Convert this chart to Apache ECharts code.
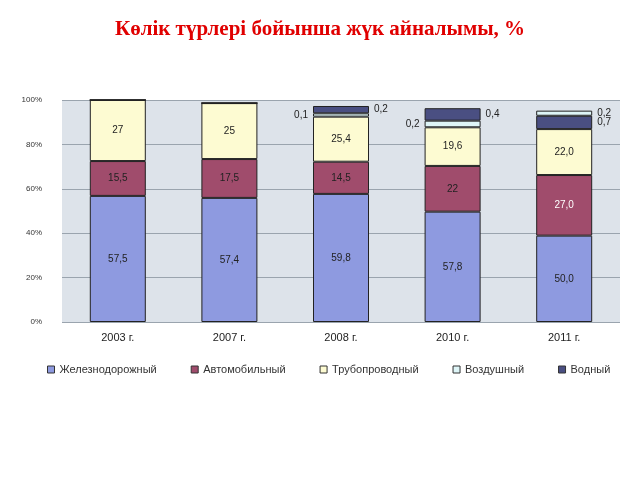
<!DOCTYPE html><html><head><meta charset="utf-8">
<script src="https://cdn.jsdelivr.net/npm/echarts@6/dist/echarts.min.js"></script></head>
<body style="margin:0;background:#fff"><div id="c" style="width:640px;height:480px"></div>
<script>
const categories = ['2003 г.','2007 г.','2008 г.','2010 г.','2011 г.'];
const seriesNames = ['Железнодорожный','Автомобильный','Трубопроводный','Воздушный','Водный'];
// segment heights as drawn in the picture (%)
const rail = [56.8, 55.9, 57.7, 49.7, 38.9];
const auto = [15.7, 17.5, 14.5, 20.6, 27.3];
const pipe = [27.5, 25.2, 20.3, 17.4, 20.7];
const air = [0, 0, 1.5, 3.0, 2.3];
const water = [0, 0, 3.3, 5.6, 6.0];
// printed labels
const railLbl = ['57,5','57,4','59,8','57,8','50,0'];
const autoLbl = ['15,5','17,5','14,5','22','27,0'];
const pipeLbl = ['27','25','25,4','19,6','22,0'];
const airLbl = ['','','0,1','0,2','0,2'];
const waterLbl = ['','','0,2','0,4','0,7'];
const colors = ['#8e9ae0','#a04c6c','#fdfbd2','#def5f7','#4a4f82'];
const yTicks = ['0%','20%','40%','60%','80%','100%'];
const ch = echarts.init(document.getElementById('c'));
function lab(t,pos,col){return {show:!!t, formatter:t, position:pos, color:col||'#222', fontSize:10, fontFamily:'Liberation Sans'};}
function mk(i, vals, lbls, lblColor){
  return {name:seriesNames[i], type:'bar', stack:'s', barWidth:56,
    itemStyle:{color:colors[i], borderColor:'#222', borderWidth:1},
    data: vals.map((v,j)=>({value:v, label:lab(lbls[j],'inside', lblColor ? lblColor[j] : '#222')}))};
}
// 2011: water segment drawn below air segment
const airSeries = {name:seriesNames[3], type:'bar', stack:'s', barWidth:56,
  itemStyle:{color:colors[3], borderColor:'#222', borderWidth:1},
  data: air.map((v,j)=> j===4
    ? {value:water[j], itemStyle:{color:colors[4]}, label:lab(waterLbl[j],'right')}
    : {value:v, label:lab(airLbl[j],'left')})};
const waterSeries = {name:seriesNames[4], type:'bar', stack:'s', barWidth:56,
  itemStyle:{color:colors[4], borderColor:'#222', borderWidth:1},
  data: water.map((v,j)=> j===4
    ? {value:air[j], itemStyle:{color:colors[3]}, label:lab(airLbl[j],'right')}
    : {value:v, label:lab(waterLbl[j],'right')})};
ch.setOption({
  animation:false,
  title:{text:'Көлік түрлері бойынша жүк айналымы, %', left:'center', top:14,
    textStyle:{color:'#e00000', fontFamily:'Liberation Serif', fontWeight:'bold', fontSize:21}},
  grid:{left:62, right:20, top:100, bottom:158, backgroundColor:'#dde3ea', show:true, borderWidth:0},
  xAxis:{type:'category', data:categories, axisLine:{show:false}, axisTick:{show:false},
    axisLabel:{fontSize:11, color:'#222', margin:10, fontFamily:'Liberation Sans'}},
  yAxis:{type:'value', min:0, max:100, interval:20, axisLine:{show:false}, axisTick:{show:false},
    axisLabel:{formatter:v=>yTicks[v/20], fontSize:8, color:'#333', margin:20},
    splitLine:{lineStyle:{color:'#9aa4ae', width:1}}},
  legend:{bottom:100, left:42, itemWidth:7, itemHeight:7, itemGap:34, icon:'rect',
    textStyle:{fontSize:11, color:'#333', fontFamily:'Liberation Sans'},
    data:seriesNames.map((n,i)=>({name:n, itemStyle:{borderColor:'#333', borderWidth:1}}))},
  series:[
    mk(0, rail, railLbl),
    mk(1, auto, autoLbl, ['#222','#222','#222','#222','#fff']),
    mk(2, pipe, pipeLbl),
    airSeries,
    waterSeries
  ]
});
</script></body></html>
